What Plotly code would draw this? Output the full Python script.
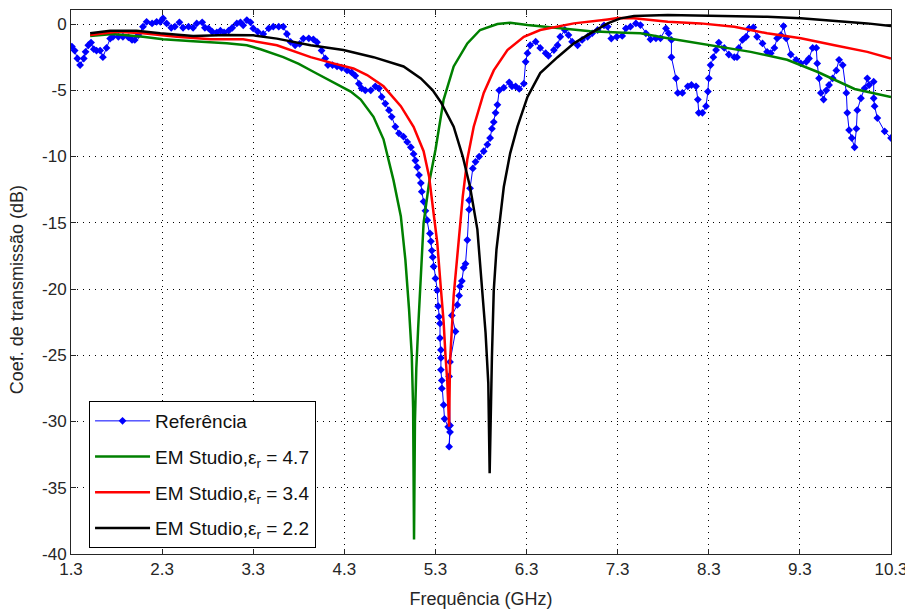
import plotly.graph_objects as go

# ---------------- data ----------------
ref_f = [1.31, 1.34, 1.37, 1.40, 1.44, 1.46, 1.49, 1.52, 1.55, 1.58, 1.62, 1.65, 1.69, 1.73, 1.76, 1.82, 1.87, 1.93, 1.97, 2.00,
         2.04, 2.09, 2.13, 2.19, 2.24, 2.28, 2.31, 2.35, 2.40, 2.44, 2.49, 2.53, 2.59, 2.64, 2.68, 2.74, 2.77, 2.81, 2.85, 2.90,
         2.94, 2.98, 3.03, 3.07, 3.12, 3.16, 3.19, 3.23, 3.27, 3.30, 3.35, 3.41, 3.47, 3.52, 3.58, 3.63, 3.67, 3.71, 3.76, 3.81,
         3.85, 3.91, 3.96, 4.00, 4.05, 4.09, 4.12, 4.17, 4.22, 4.27, 4.33, 4.38, 4.42, 4.46, 4.49, 4.53, 4.59, 4.64, 4.68, 4.71,
         4.75, 4.79, 4.82, 4.86, 4.90, 4.95, 4.99, 5.03, 5.06, 5.08, 5.10, 5.12, 5.14, 5.15, 5.17, 5.19, 5.21, 5.24, 5.25, 5.26,
         5.27, 5.28, 5.30, 5.32, 5.33, 5.34, 5.35, 5.35, 5.36, 5.36, 5.36, 5.37, 5.37, 5.39, 5.40, 5.44, 5.46, 5.45, 5.46, 5.45,
         5.46, 5.52, 5.48, 5.54, 5.56, 5.57, 5.59, 5.61, 5.63, 5.65, 5.67, 5.67, 5.68, 5.71, 5.74, 5.78, 5.83, 5.87, 5.90, 5.92,
         5.94, 5.96, 5.98, 6.00, 6.05, 6.11, 6.14, 6.18, 6.22, 6.27, 6.29, 6.31, 6.34, 6.40, 6.45, 6.51, 6.54, 6.60, 6.64, 6.67,
         6.72, 6.76, 6.80, 6.86, 6.91, 6.97, 7.02, 7.08, 7.15, 7.19, 7.23, 7.29, 7.35, 7.39, 7.44, 7.50, 7.55, 7.61, 7.66, 7.72,
         7.77, 7.83, 7.86, 7.89, 7.89, 7.94, 7.96, 8.01, 8.07, 8.11, 8.16, 8.18, 8.19, 8.23, 8.27, 8.29, 8.30, 8.32, 8.35, 8.38,
         8.41, 8.47, 8.52, 8.58, 8.61, 8.63, 8.67, 8.71, 8.74, 8.79, 8.83, 8.89, 8.94, 8.98, 9.02, 9.05, 9.09, 9.12, 9.15, 9.20,
         9.26, 9.31, 9.37, 9.40, 9.44, 9.48, 9.49, 9.51, 9.53, 9.56, 9.59, 9.62, 9.66, 9.70, 9.73, 9.77, 9.81, 9.82, 9.84, 9.87,
         9.90, 9.92, 9.93, 9.97, 10.01, 10.04, 10.06, 10.11, 10.11, 10.12, 10.15, 10.23, 10.30]
ref_db = [-1.7, -2.0, -2.6, -3.1, -2.6, -2.1, -1.6, -1.4, -1.9, -2.0, -2.0, -2.5, -1.8, -1.1, -0.96, -0.96, -0.96, -1.0, -1.2, -1.2,
          -0.83, -0.2, 0.17, 0.05, 0.17, 0.17, 0.43, 0.05, -0.28, -0.2, 0.13, -0.28, -0.2, -0.28, 0.05, 0.13, -0.28, -0.33, -0.58, -0.63,
          -0.5, -0.63, -0.5, -0.28, 0.05, 0.13, -0.1, 0.3, 0.13, -0.33, -0.58, -0.75, -0.33, -0.2, -0.2, -0.2, -0.75, -1.35, -1.6, -1.5,
          -1.1, -1.08, -1.15, -1.37, -2.0, -2.6, -3.1, -3.1, -3.2, -3.3, -3.5, -3.65, -3.9, -4.5, -4.85, -5.0, -5.0, -4.7, -4.85, -5.5,
          -6.0, -6.5, -7.0, -7.75, -8.25, -8.5, -8.9, -9.3, -9.8, -10.3, -10.8, -11.4, -12.0, -12.65, -13.4, -14.1, -14.8, -15.8, -16.4, -17.1,
          -17.6, -18.3, -19.2, -20.1, -21.3, -22.1, -22.6, -23.7, -24.6, -25.2, -26.1, -26.9, -27.5, -28.75, -29.8, -30.4, -30.8, -31.9, -30.3, -26.6,
          -25.5, -23.2, -22.0, -21.2, -20.5, -19.8, -19.4, -18.4, -18.1, -16.3, -14.0, -13.3, -12.4, -10.9, -10.4, -10.0, -9.6, -9.1, -8.6, -7.9,
          -7.4, -6.7, -6.1, -5.0, -4.8, -4.4, -4.7, -4.7, -4.9, -4.5, -2.85, -2.2, -1.6, -1.33, -1.8, -2.2, -2.4, -1.96, -1.6, -0.96,
          -0.45, -0.83, -1.33, -1.6, -1.2, -0.96, -0.7, -0.45, -0.1, -0.2, -1.1, -0.96, -0.9, -0.33, -0.2, 0.05, -0.08, -0.7, -1.15, -1.08,
          -1.08, -0.33, -0.7, -1.2, -2.5, -4.1, -5.2, -5.2, -4.7, -4.6, -4.7, -5.7, -6.7, -6.7, -6.2, -5.1, -4.1, -3.1, -2.5, -1.96,
          -1.4, -1.8, -2.3, -2.5, -2.5, -1.8, -1.2, -0.96, -0.33, -0.25, -0.96, -1.46, -2.1, -2.2, -1.8, -1.08, -0.83, -0.15, -1.08, -2.3,
          -2.7, -2.97, -2.85, -2.6, -1.8, -1.8, -2.97, -4.1, -5.2, -5.7, -5.0, -4.6, -4.1, -3.5, -2.7, -3.1, -5.2, -6.7, -8.0, -8.6,
          -9.3, -7.9, -6.5, -5.6, -4.85, -4.1, -4.6, -4.35, -5.6, -6.2, -7.1, -8.1, -8.6]

er47_f = [1.51, 1.76, 2.09, 2.31, 2.64, 3.01, 3.23, 3.38, 3.63, 3.80, 3.96, 4.18, 4.37, 4.48, 4.62, 4.73, 4.84, 4.92, 4.97, 5.01,
          5.04, 5.055, 5.065, 5.075, 5.09, 5.11, 5.14, 5.17, 5.23, 5.30, 5.39, 5.50, 5.65, 5.79, 5.98, 6.12, 6.31, 6.64, 7.00, 7.37,
          7.55, 7.85, 8.29, 8.76, 9.16, 9.49, 9.90, 10.30]
er47_db = [-0.9, -0.75, -0.96, -1.15, -1.3, -1.45, -1.6, -1.9, -2.5, -3.0, -3.6, -4.4, -5.1, -5.7, -7.0, -8.7, -11.8, -14.5, -17.8, -21.5,
           -25.0, -29.0, -38.9, -30.0, -26.0, -23.0, -19.0, -15.0, -12.0, -9.5, -5.7, -3.2, -1.46, -0.45, 0.0, 0.1, -0.08, -0.33, -0.55, -0.65,
           -0.7, -1.08, -1.6, -2.1, -2.7, -3.6, -4.9, -5.5]

er34_f = [1.51, 1.80, 2.09, 2.46, 2.83, 3.19, 3.56, 3.93, 4.18, 4.40, 4.55, 4.73, 4.92, 5.06, 5.17, 5.23, 5.28, 5.32, 5.36, 5.39,
          5.41, 5.43, 5.45, 5.46, 5.50, 5.55, 5.60, 5.65, 5.72, 5.83, 5.94, 6.09, 6.27, 6.45, 6.82, 7.19, 7.30, 7.48, 7.85, 8.21,
          8.58, 8.94, 9.31, 9.68, 10.04, 10.30]
er34_db = [-0.83, -0.58, -0.7, -0.96, -1.15, -1.15, -1.6, -2.5, -2.97, -3.35, -3.85, -4.7, -6.2, -7.75, -9.6, -11.5, -14.3, -16.5, -20.0, -22.5,
           -25.0, -27.0, -30.4, -25.5, -20.5, -16.5, -13.0, -10.2, -7.75, -5.2, -3.5, -1.96, -0.96, -0.45, 0.05, 0.35, 0.45, 0.43, 0.17, 0.05,
           -0.2, -0.7, -1.08, -1.6, -2.1, -2.6]

er22_f = [1.51, 1.73, 2.02, 2.28, 2.64, 3.01, 3.30, 3.56, 3.93, 4.29, 4.62, 4.95, 5.14, 5.27, 5.36, 5.50, 5.60, 5.68, 5.76, 5.81,
          5.85, 5.88, 5.895, 5.92, 5.94, 5.97, 6.01, 6.05, 6.12, 6.20, 6.31, 6.45, 6.64, 6.82, 7.00, 7.19, 7.33, 7.48, 7.85, 8.21,
          8.58, 8.94, 9.31, 9.68, 10.04, 10.30]
er22_db = [-0.7, -0.5, -0.5, -0.7, -0.9, -0.83, -0.85, -1.1, -1.6, -1.96, -2.5, -3.2, -4.1, -5.0, -5.9, -7.75, -10.0, -12.3, -15.5, -19.6,
           -23.3, -27.1, -33.9, -25.1, -20.1, -17.0, -14.5, -12.3, -9.76, -7.75, -5.5, -3.7, -2.5, -1.46, -0.7, 0.05, 0.43, 0.6, 0.68, 0.63,
           0.6, 0.55, 0.43, 0.25, 0.05, -0.15]

x_ticks = [1.3, 2.3, 3.3, 4.3, 5.3, 6.3, 7.3, 8.3, 9.3, 10.3]
y_ticks = [0, -5, -10, -15, -20, -25, -30, -35, -40]

names = ["Referência",
         "EM Studio,ε<sub>r</sub> = 4.7",
         "EM Studio,ε<sub>r</sub> = 3.4",
         "EM Studio,ε<sub>r</sub> = 2.2"]
x_title = "Frequência (GHz)"
y_title = "Coef. de transmissão (dB)"

# ---------------- figure ----------------
fig = go.Figure()
fig.add_trace(go.Scatter(x=ref_f, y=ref_db, mode="lines+markers", name=names[0], legendgroup="a",
                         line=dict(color="#0000FF", width=1),
                         marker=dict(symbol="diamond", size=6, color="#0000FF")))
fig.add_trace(go.Scatter(x=er47_f, y=er47_db, mode="lines", name=names[1], legendgroup="b",
                         line=dict(color="#008000", width=2.5)))
fig.add_trace(go.Scatter(x=er34_f, y=er34_db, mode="lines", name=names[2], legendgroup="c",
                         line=dict(color="#FF0000", width=2.5)))
fig.add_trace(go.Scatter(x=er22_f, y=er22_db, mode="lines", name=names[3], legendgroup="d",
                         line=dict(color="#000000", width=2.5)))

font_family = "Liberation Sans, Arial, sans-serif"
txt_color = "#262626"
axis_common = dict(
    automargin=False,
    showline=True, linecolor=txt_color, linewidth=1, mirror="ticks",
    ticks="inside", ticklen=5, tickcolor=txt_color,
    showgrid=True, gridcolor="#000000", gridwidth=1, griddash="1px,5px",
    zeroline=False, tickfont=dict(family=font_family, size=17, color=txt_color),
)

fig.update_xaxes(range=[1.3, 10.3], tickvals=x_ticks, ticktext=[f"{v:.1f}" for v in x_ticks],
                 title=dict(text=x_title, font=dict(family=font_family, size=18, color=txt_color)),
                 **axis_common)
fig.update_yaxes(range=[-40, 1.06], tickvals=y_ticks, ticktext=[str(v) for v in y_ticks],
                 **axis_common)

fig.add_annotation(text=y_title, xref="paper", yref="paper", x=0, y=0.485,
                   xanchor="center", yanchor="middle", xshift=-54, textangle=-90,
                   showarrow=False, font=dict(family=font_family, size=18, color=txt_color))

fig.update_layout(
    width=905, height=601,
    margin=dict(l=63, r=22, t=2, b=55),
    paper_bgcolor="white", plot_bgcolor="white",
    showlegend=True,
    legend=dict(x=0.022, y=0.011, xanchor="left", yanchor="bottom",
                bgcolor="white", bordercolor="#000000", borderwidth=1,
                font=dict(family=font_family, size=19, color="#111111"),
                itemwidth=55, tracegroupgap=8),
)

fig.write_html("out.html")
